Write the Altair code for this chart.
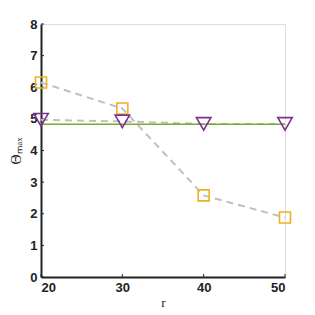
import altair as alt
import pandas as pd

r = [20, 30, 40, 50]
theta_sq = [6.15, 5.33, 2.58, 1.88]
theta_tri = [4.97, 4.92, 4.84, 4.84]
theta_green = [4.83, 4.83, 4.83, 4.83]
x_ticks = [20, 30, 40, 50]
y_ticks = [0, 1, 2, 3, 4, 5, 6, 7, 8]

df = pd.DataFrame({"r": r, "sq": theta_sq, "tri": theta_tri, "green": theta_green})
xt = pd.DataFrame({"t": x_ticks})
yt = pd.DataFrame({"t": y_ticks})

W, H = 244, 253
xs = alt.Scale(domain=[20, 50], nice=False, zero=False)
ys = alt.Scale(domain=[0, 8], nice=False, zero=True)

xaxis = alt.Axis(values=x_ticks, title="r", titleFont="Liberation Serif", titleFontWeight="normal",
                 titleFontSize=13, titleColor="#222222", titlePadding=2, labelOverlap=False,
                 labelFont="Liberation Sans", labelFontSize=13, labelColor="#222222", labelPadding=4,
                 ticks=False, domainColor="#222222", domainWidth=2, grid=False, labelFontWeight="bold")
yaxis = alt.Axis(values=y_ticks, title="Θₘₐₓ", titleFont="Liberation Serif", titleFontWeight="normal",
                 titleFontSize=14, titleColor="#222222", titlePadding=6, labelOverlap=False,
                 labelFont="Liberation Sans", labelFontSize=13, labelColor="#222222", labelPadding=4,
                 ticks=False, domainColor="#222222", domainWidth=2, grid=False, labelFontWeight="bold")

base = alt.Chart(df)
dash1 = base.mark_line(color="#c0c0c0", strokeDash=[7, 5], strokeWidth=2).encode(
    x=alt.X("r:Q", scale=xs, axis=xaxis), y=alt.Y("sq:Q", scale=ys, axis=yaxis))
dash2 = base.mark_line(color="#c0c0c0", strokeDash=[7, 5], strokeWidth=2).encode(
    x=alt.X("r:Q", scale=xs, axis=xaxis), y=alt.Y("tri:Q", scale=ys, axis=yaxis))
green = base.mark_line(color="#77AC30", strokeWidth=1.5).encode(
    x=alt.X("r:Q", scale=xs, axis=xaxis), y=alt.Y("green:Q", scale=ys, axis=yaxis))
sq = base.mark_point(shape="square", filled=False, color="#EDB120", size=121, strokeWidth=1.6, opacity=1).encode(
    x=alt.X("r:Q", scale=xs, axis=xaxis), y=alt.Y("sq:Q", scale=ys, axis=yaxis))
tri = base.mark_point(shape="triangle-down", filled=False, color="#7E2F8E", size=210, strokeWidth=1.6, opacity=1).encode(
    x=alt.X("r:Q", scale=xs, axis=xaxis), y=alt.Y("tri:Q", scale=ys, axis=yaxis))

ytick = alt.Chart(yt).mark_rule(color="#222222", strokeWidth=1).encode(
    y=alt.Y("t:Q", scale=ys, axis=yaxis), x=alt.value(0), x2=alt.value(3))
xtick = alt.Chart(xt).mark_rule(color="#222222", strokeWidth=1).encode(
    x=alt.X("t:Q", scale=xs, axis=xaxis), y=alt.value(H), y2=alt.value(H - 3))

chart = alt.layer(ytick, xtick, dash1, dash2, green, sq, tri).properties(
    width=W, height=H, autosize=alt.AutoSizeParams(type="none"),
    padding={"left": 33, "top": 16, "right": 22, "bottom": 36}
).configure_view(stroke=None).configure(background="white")

chart.save("out.html", embed_options={"renderer": "svg", "actions": False})
